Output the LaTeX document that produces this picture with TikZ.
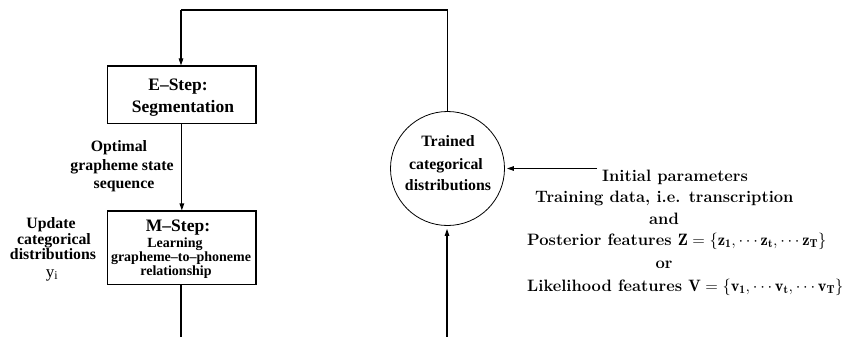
\documentclass[tikz,border=0pt]{standalone}
\usepackage{fix-cm}
\usepackage{fontspec}
\newfontfamily\tnr{Liberation Serif}
\usetikzlibrary{arrows.meta}
\begin{document}
\begin{tikzpicture}[x=1pt,y=-1pt,
  line/.style={line width=1.1pt},
  arr/.style={line width=1.1pt,-{Triangle[length=7pt,width=4.5pt]}},
  boxnode/.style={draw,line width=1.1pt,minimum width=148.3pt,minimum height=#1,inner sep=0pt},
  big/.style={font=\tnr\bfseries\fontsize{17.5}{21}\selectfont,inner sep=0pt,anchor=base},
  mid/.style={font=\tnr\bfseries\fontsize{15.8}{19}\selectfont,inner sep=0pt,anchor=base},
  small/.style={font=\tnr\bfseries\fontsize{14}{17}\selectfont,inner sep=0pt,anchor=base},
  rt/.style={font=\bfseries\fontsize{16.5}{20}\selectfont,inner sep=0pt,anchor=base west},
  rtc/.style={font=\bfseries\fontsize{16.5}{20}\selectfont,inner sep=0pt,anchor=base},
]
\useasboundingbox (0,0) rectangle (849,337);
% shapes
\node[boxnode=57.3pt] (ebox) at (181.85,94.65) {};
\node[boxnode=73.3pt] (mbox) at (181.85,247.65) {};
\node[draw,circle,line width=0.8pt,minimum size=114pt,inner sep=0pt] (circ) at (447.5,168.5) {};
\coordinate (topL) at (181,10);
\coordinate (topR) at (447.5,10);
\coordinate (mend) at (181,337);
\coordinate (bstart) at (447,337);
\coordinate (rstart) at (597,168.5);
% connectors
\draw[line] (circ.north) -- (topR) -- (topL);
\draw[arr] (topL) -- (topL |- ebox.north);
\draw[arr] (ebox.south) -- (mbox.north);
\draw[line] (mend |- mbox.south) -- (mend);
\draw[arr,shorten >=3pt] (bstart) -- (bstart |- circ.south);
\draw[arr,shorten >=2pt] (rstart) -- (circ.east);
% box texts
\node[big] (e1) at (178,90) {E–Step:};
\node[big] (e2) at (183,112) {Segmentation};
\node[big] (m1) at (178,231.5) {M–Step:};
\node[small] (m2) at (175,247) {Learning};
\node[small] (m3) at (181,261.5) {grapheme–to–phoneme};
\node[small] (m4) at (176,275) {relationship};
% left labels
\node[mid] (o1) at (119,151) {Optimal};
\node[mid] (o2) at (122,170.5) {grapheme state};
\node[mid] (o3) at (124,188) {sequence};
\node[mid] (u1) at (51,228) {Update};
\node[mid] (u2) at (54,244) {categorical};
\node[mid] (u3) at (53,259) {distributions};
\node[inner sep=0pt,anchor=base,font=\tnr\fontsize{17}{20}\selectfont] (u4) at (52,277) {y\textsubscript{i}};
% circle text
\node[mid] (c1) at (448,146.5) {Trained};
\node[mid] (c2) at (446,169) {categorical};
\node[mid] (c3) at (448,190.5) {distributions};
% right text
\node[rt] (r1) at (602,181) {Initial parameters};
\node[rt] (r2) at (535,202.5) {Training data, i.e. transcription};
\node[rtc] (r3) at (664,224) {and};
\node[rt] (r4) at (527,245.5) {Posterior features $\mathbf{Z}=\{\mathbf{z_1},\cdots\mathbf{z_t},\cdots\mathbf{z_T}\}$};
\node[rtc] (r5) at (664,268) {or};
\node[rt] (r6) at (527,291) {Likelihood features $\mathbf{V}=\{\mathbf{v_1},\cdots\mathbf{v_t},\cdots\mathbf{v_T}\}$};
\end{tikzpicture}
\end{document}
